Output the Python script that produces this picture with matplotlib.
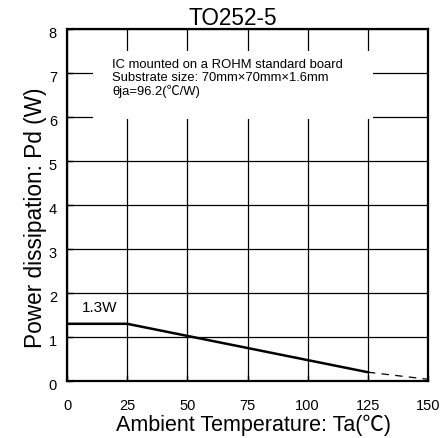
import matplotlib
matplotlib.use("Agg")
from matplotlib import pyplot as plt
from matplotlib.patches import Rectangle
from matplotlib.transforms import ScaledTranslation, blended_transform_factory

# derating curve
ta_solid = [0, 25, 125]
pd_solid = [1.3, 1.3, 0.2]
ta_dash = [125, 150]
pd_dash = [0.2, 0.04]

xticks = [0, 25, 50, 75, 100, 125, 150]
yticks = [0, 1, 2, 3, 4, 5, 6, 7, 8]

plt.rcParams["font.family"] = ["Liberation Sans", "Noto Sans CJK JP", "DejaVu Sans"]

W, H = 443, 439
fig = plt.figure(figsize=(W / 100, H / 100), dpi=100)
ax = fig.add_axes([67 / W, 57 / H, 361 / W, 352 / H])

ax.plot(ta_solid, pd_solid, color="black", linewidth=1.8, zorder=3)
ax.plot(ta_dash, pd_dash, color="black", linewidth=0.9, linestyle=(0, (6, 5)), zorder=3)

ax.set_xlim(0, 150)
ax.set_ylim(0, 8)
ax.set_xticks(xticks)
ax.set_yticks(yticks)
ax.tick_params(direction="in", length=4, labelsize=10.5, width=1)
ax.tick_params(axis="x", pad=12)
ax.tick_params(axis="y", labelleft=False)
ax.grid(True, color="black", linewidth=0.9, zorder=1)
for s in ax.spines.values():
    s.set_linewidth(1.6)

# y tick labels by hand, a little below their grid line like the original
ytrans = blended_transform_factory(ax.transAxes, ax.transData) + \
    ScaledTranslation(0, -3 / 72, fig.dpi_scale_trans)
for v in yticks:
    ax.text(-0.028, v, str(v), transform=ytrans, fontsize=10.5,
            ha="right", va="center", rotation=0, clip_on=False)

# white panel behind the note, cuts the grid
ax.add_patch(Rectangle((10.8, 5.95), 116.3, 1.55, facecolor="white",
                       edgecolor="none", zorder=2))
ax.text(18.7, 7.33,
        "IC mounted on a ROHM standard board\n"
        "Substrate size: 70mm\u00d770mm\u00d71.6mm\n"
        "\u03b8ja=96.2(\u2103/W)",
        fontsize=9.4, va="top", ha="left", linespacing=1.05, zorder=4)

ax.text(6.2, 1.59, "1.3W", fontsize=11, zorder=4)

fig.text(233 / W, 1 - 25 / H, "TO252-5", fontsize=16.3, ha="center", va="baseline")
fig.text(254 / W, 1 - 425 / H, "Ambient Temperature: Ta(\u2103)", fontsize=15.5,
         ha="center", va="center")
fig.text(35.5 / W, 1 - 218 / H, "Power dissipation: Pd (W)", fontsize=16.3,
         ha="center", va="center", rotation=90)

fig.savefig("out.png", dpi=100)
